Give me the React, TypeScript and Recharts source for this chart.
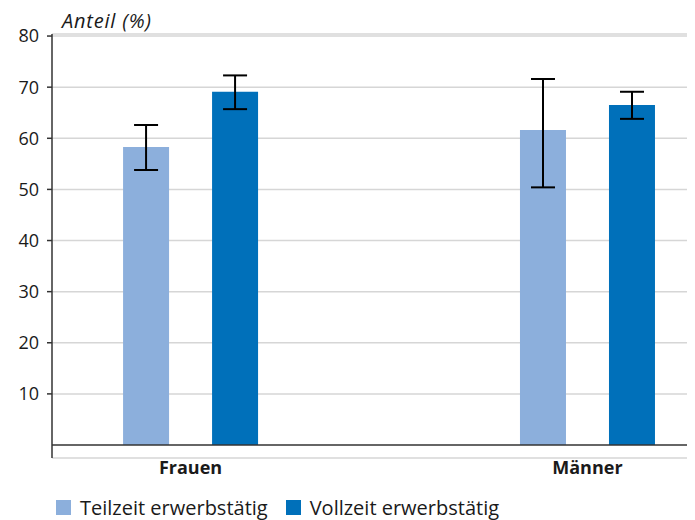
import { BarChart, Bar, XAxis, YAxis, CartesianGrid, ErrorBar, ReferenceLine, Legend } from 'recharts';

const categories = ['Frauen', 'Männer'];
const teilzeit = [58.3, 61.6];
const teilzeitLow = [53.8, 50.4];
const teilzeitHigh = [62.6, 71.6];
const vollzeit = [69.1, 66.5];
const vollzeitLow = [65.7, 63.8];
const vollzeitHigh = [72.3, 69.1];
const yTicks = [10, 20, 30, 40, 50, 60, 70, 80];

const LIGHT = '#8cafdc';
const DARK = '#0070ba';
const FONT = '"Open Sans", "Noto Sans", sans-serif';

const data = categories.map((name, i) => ({
    pos: i,
    name,
    teilzeit: teilzeit[i],
    teilzeitErr: [teilzeit[i] - teilzeitLow[i], teilzeitHigh[i] - teilzeit[i]],
    vollzeit: vollzeit[i],
    vollzeitErr: [vollzeit[i] - vollzeitLow[i], vollzeitHigh[i] - vollzeit[i]],
}));

const legendItems = [
    { label: 'Teilzeit erwerbstätig', color: LIGHT },
    { label: 'Vollzeit erwerbstätig', color: DARK },
];

const renderLegend = () => (
    <div style={{ display: 'flex', alignItems: 'center', height: 26, paddingLeft: 48, fontFamily: FONT, fontSize: 20, color: '#1a1a1a' }}>
        {legendItems.map((it) => (
            <div key={it.label} style={{ display: 'flex', alignItems: 'center', marginRight: 18 }}>
                <span style={{ display: 'inline-block', width: 15, height: 15, background: it.color, marginRight: 9 }} />
                <span>{it.label}</span>
            </div>
        ))}
    </div>
);

const App = () => {
    return (
        <div style={{ width: 687, height: 512 }}>
            <BarChart
                width={687}
                height={512}
                data={data}
                barGap={43}
                margin={{ top: 26, right: 0, left: 0, bottom: 0 }}
            >
                <CartesianGrid vertical={false} stroke="#d6d6d6" strokeWidth={1.5} />
                <XAxis
                    dataKey="pos"
                    type="number"
                    domain={[-0.349, 1.271]}
                    allowDataOverflow
                    ticks={[0, 1]}
                    tickFormatter={(v: number) => categories[v] ?? ''}
                    axisLine={false}
                    tickLine={false}
                    tickSize={0}
                    tickMargin={3}
                    height={36}
                    tick={{ fontFamily: FONT, fontSize: 18, fontWeight: 700, fill: '#1a1a1a' }}
                />
                <YAxis
                    type="number"
                    domain={[-2.54, 80.4]}
                    allowDataOverflow
                    ticks={yTicks}
                    width={44}
                    axisLine={{ stroke: '#333', strokeWidth: 1.5 }}
                    tickLine={{ stroke: '#333', strokeWidth: 1.5 }}
                    tickSize={5}
                    tickMargin={8}
                    tick={{ fontFamily: FONT, fontSize: 18, fill: '#1a1a1a' }}
                    label={{
                        value: 'Anteil (%)',
                        content: (props: any) => {
                            const vb = props.viewBox || {};
                            return (
                                <text
                                    x={(vb.x ?? 0) + (vb.width ?? 44) + 10}
                                    y={(vb.y ?? 26) - 6}
                                    fontFamily={FONT}
                                    fontSize={20}
                                    fontStyle="italic"
                                    letterSpacing={0.8}
                                    fill="#1a1a1a"
                                >
                                    Anteil (%)
                                </text>
                            );
                        },
                    }}
                />
                <ReferenceLine y={0} stroke="#333" strokeWidth={1.5} />
                <Legend verticalAlign="bottom" align="left" content={renderLegend} wrapperStyle={{ left: 0, width: 687 }} />
                <Bar dataKey="teilzeit" name="Teilzeit erwerbstätig" fill={LIGHT} barSize={46} isAnimationActive={false}>
                    <ErrorBar dataKey="teilzeitErr" width={12} stroke="#000" strokeWidth={2} isAnimationActive={false} />
                </Bar>
                <Bar dataKey="vollzeit" name="Vollzeit erwerbstätig" fill={DARK} barSize={46} isAnimationActive={false}>
                    <ErrorBar dataKey="vollzeitErr" width={12} stroke="#000" strokeWidth={2} isAnimationActive={false} />
                </Bar>
            </BarChart>
        </div>
    );
};

export default App;
